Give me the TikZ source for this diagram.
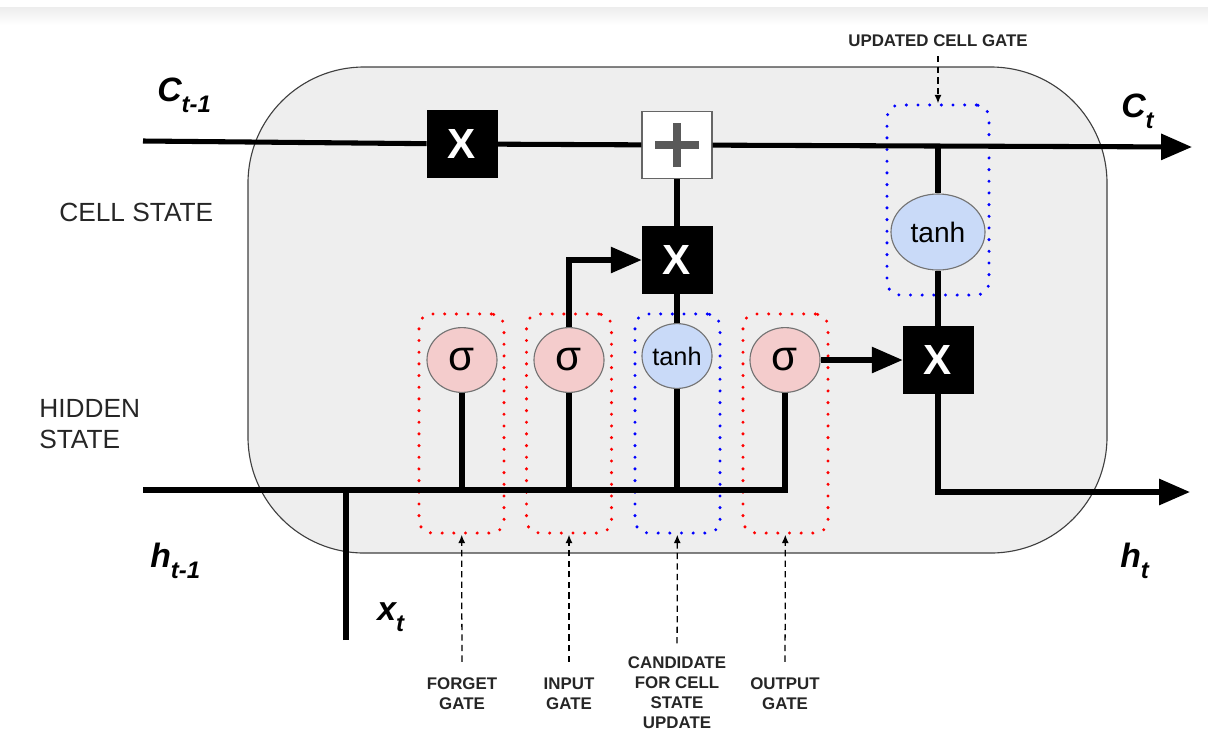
\documentclass[tikz,border=0pt]{standalone}
\usepackage{fontspec}
\setmainfont{Liberation Sans}
\usetikzlibrary{arrows.meta,positioning,shapes.geometric}
\definecolor{cellgray}{HTML}{EEEEEE}
\definecolor{sigpink}{HTML}{F4CCCC}
\definecolor{tanhblue}{HTML}{C9DAF8}
\newcommand{\lowsub}[1]{\raisebox{-0.33em}{\fontsize{17}{17}\selectfont #1}}

\begin{document}
\begin{tikzpicture}[x=0.025cm,y=-0.025cm,
  mult/.style={draw=black,fill=black,minimum width=1.75cm,minimum height=1.68cm,inner sep=0pt,
               text=white,font=\fontsize{30}{30}\selectfont\bfseries},
  act/.style={ellipse,draw=black!55,line width=0.8pt,fill=#1,minimum width=1.75cm,minimum height=1.62cm,inner sep=0pt},
  wire/.style={line width=3.6pt},
  arr/.style={wire,-{Triangle[length=22pt,width=18pt]}},
  gatebox/.style={draw=#1,line width=2.4pt,dash pattern=on 0pt off 8.3pt,line cap=round,rounded corners=9pt,
                  minimum width=2.125cm,minimum height=5.475cm,inner sep=0pt},
  note/.style={dashed,dash pattern=on 4.5pt off 3pt,line width=0.9pt,-{Latex[length=6pt,width=5pt]}},
  lbl/.style={font=\fontsize{12}{14.3}\selectfont\bfseries,align=center,text=black!85},
  var/.style={font=\fontsize{24}{24}\selectfont\bfseries\itshape,inner sep=0pt}
]
\useasboundingbox (0,0) rectangle (1208,733);
\shade[top color=gray!14,bottom color=white] (0,7) rectangle (1208,25);
\draw[fill=cellgray,draw=black!75,line width=0.8pt,rounded corners=2.9cm] (248,67) rectangle (1107,553);

\node[gatebox=red]  (fg) at (461.5,423.5) {};
\node[gatebox=red]  (ig) at (569,423.5) {};
\node[gatebox=blue] (cg) at (677.5,423.5) {};
\node[gatebox=red]  (og) at (785.5,423.5) {};
\node[gatebox=blue,minimum width=2.55cm,minimum height=4.75cm] (ug) at (938,200) {};

\node[mult] (fx) at (462,144) {X};
\node[draw=black!60,fill=white,line width=0.8pt,minimum width=1.75cm,minimum height=1.68cm,inner sep=0pt] (add) at (677,145) {};
\draw[black!65,line width=5.8pt] ([xshift=-0.55cm]add.center) -- ([xshift=0.55cm]add.center)
  ([yshift=-0.55cm]add.center) -- ([yshift=0.55cm]add.center);
\node[mult] (ix) at (677,260) {X};
\node[mult] (ox) at (938,360) {X};

\node[act=sigpink,font=\fontsize{30}{30}\selectfont] (fs) at (462,360) {σ};
\node[act=sigpink,font=\fontsize{30}{30}\selectfont] (is) at (569,360) {σ};
\node[act=tanhblue,font=\fontsize{18}{18}\selectfont] (cs) at (677,356) {tanh};
\node[act=sigpink,font=\fontsize{30}{30}\selectfont] (os) at (785,360) {σ};
\node[act=tanhblue,minimum width=2.35cm,minimum height=1.9cm,font=\fontsize{20}{20}\selectfont] (ut) at (938,232) {tanh};

\coordinate (cin) at (143,141);
\coordinate (cout) at (1192,147);
\coordinate (hin) at (143,490);
\coordinate (hj) at (785,490);
\coordinate (hout) at (1190,492);
\coordinate (xin) at (346,640);
\coordinate (uj) at (938,146);

\draw[wire] (cin) -- (fx);
\draw[wire] (fx) -- (add);
\draw[arr] (add) -- (cout);
\draw[wire] (hin) -- (hj) -- (os);
\draw[wire] (xin) -- (xin |- hin);
\draw[wire] (fs) -- (fs |- hin);
\draw[wire] (is) -- (is |- hin);
\draw[wire] (cs) -- (cs |- hin);
\draw[wire] (cs) -- (ix);
\draw[wire] (ix) -- (add);
\draw[arr] (is.north) |- (ix.west);
\draw[arr] (os) -- (ox);
\draw[wire] (uj) -- (ut);
\draw[wire] (ut) -- (ox);
\draw[arr] (ox.south) |- (hout);

\node[var,anchor=base west] (cprev) at (157,101) {C\lowsub{t-1}};
\node[var,anchor=base west] (cnext) at (1121,117) {C\lowsub{t}};
\node[var,anchor=base west] (hprev) at (150,567) {h\lowsub{t-1}};
\node[var,anchor=base west] (hnext) at (1120,567) {h\lowsub{t}};
\node[var,anchor=base west] (xcur) at (377,620) {x\lowsub{t}};

\node[anchor=base west,inner sep=0pt,font=\fontsize{18.7}{18.7}\selectfont,text=black!85] (cst) at (59,221) {CELL STATE};
\node[anchor=west,inner sep=0pt,align=left,font=\fontsize{18.7}{22}\selectfont,text=black!85] (hst) at (39,424) {HIDDEN\\STATE};

\node[lbl] (fl) at (462,694) {FORGET\\GATE};
\node[lbl] (il) at (569,694) {INPUT\\GATE};
\node[lbl] (cl) at (677,693) {CANDIDATE\\FOR CELL\\STATE\\UPDATE};
\node[lbl] (ol) at (785,694) {OUTPUT\\GATE};
\node[lbl] (ul) at (938,41) {UPDATED CELL GATE};

\draw[note,shorten <=8pt] (fl) -- (fg);
\draw[note,shorten <=8pt] (il) -- (ig);
\draw[note,shorten <=6pt] (cl) -- (cg);
\draw[note,shorten <=8pt] (ol) -- (og);
\draw[note,shorten <=3pt] (ul) -- (ug);
\end{tikzpicture}
\end{document}
